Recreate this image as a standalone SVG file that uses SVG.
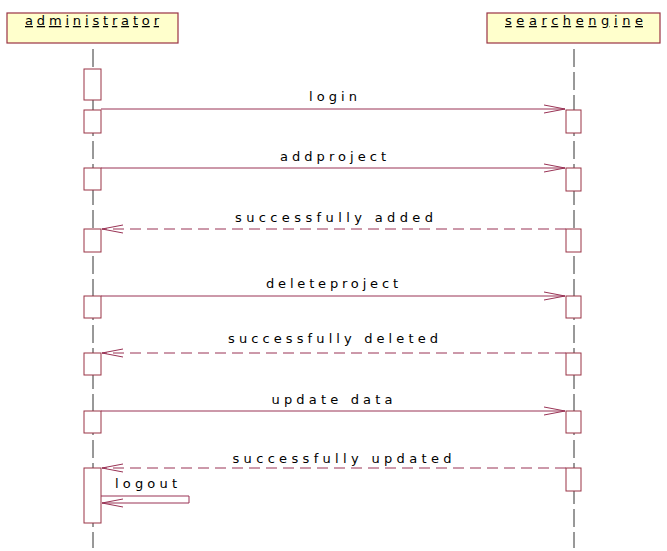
<svg xmlns="http://www.w3.org/2000/svg" width="667" height="551" viewBox="0 0 667 551">
<style>
.obj{fill:#FFFFCC;stroke:#993344;stroke-width:1.2}
.act{fill:#FFFFFF;stroke:#993344;stroke-width:1}
.life{stroke:#333333;stroke-width:1;stroke-dasharray:18 5;fill:none}
.msg{stroke:#993355;stroke-width:1;fill:none}
.ret{stroke:#993355;stroke-width:1;fill:none;stroke-dasharray:11 6}
.lbl{font-family:"DejaVu Sans","Liberation Sans",sans-serif;font-size:13px;fill:#000}
.name{font-family:"DejaVu Sans","Liberation Sans",sans-serif;font-size:13px;fill:#000;text-decoration:underline}
</style>
<defs>
<marker id="open" markerUnits="userSpaceOnUse" markerWidth="24" markerHeight="12" refX="21" refY="5" orient="auto">
<path d="M0,1 L21,5 L0,9" fill="none" stroke="#993355" stroke-width="1"/>
</marker>
</defs>
<rect width="667" height="551" fill="#FFFFFF"/>
<g id="administrator">
<rect class="obj" x="7" y="13" width="171" height="30"/>
<text class="name" x="92" y="25" text-anchor="middle" textLength="134" lengthAdjust="spacing">administrator</text>
<line class="life" x1="93" y1="49" x2="93" y2="548"/>
<rect class="act" x="84" y="69" width="17" height="31"/>
<rect class="act" x="84" y="110" width="17" height="23"/>
<rect class="act" x="84" y="168" width="17" height="22"/>
<rect class="act" x="84" y="229" width="17" height="23"/>
<rect class="act" x="84" y="296" width="17" height="22"/>
<rect class="act" x="84" y="353" width="17" height="22"/>
<rect class="act" x="84" y="411" width="17" height="22"/>
<rect class="act" x="84" y="468" width="17" height="55"/>
</g>
<g id="searchengine">
<rect class="obj" x="487" y="13" width="173" height="30"/>
<text class="name" x="574" y="25" text-anchor="middle" textLength="138" lengthAdjust="spacing">searchengine</text>
<line class="life" x1="574" y1="49" x2="574" y2="548"/>
<rect class="act" x="566" y="110" width="15" height="23"/>
<rect class="act" x="566" y="168" width="15" height="23"/>
<rect class="act" x="566" y="229" width="15" height="23"/>
<rect class="act" x="566" y="296" width="15" height="22"/>
<rect class="act" x="566" y="353" width="15" height="22"/>
<rect class="act" x="566" y="411" width="15" height="22"/>
<rect class="act" x="566" y="468" width="15" height="23"/>
</g>
<g id="connectors">
<line class="msg" x1="101" y1="109" x2="565" y2="109" marker-end="url(#open)"/>
<line class="msg" x1="101" y1="168" x2="565" y2="168" marker-end="url(#open)"/>
<line class="ret" x1="566" y1="229" x2="102" y2="229" marker-end="url(#open)"/>
<line class="msg" x1="101" y1="296" x2="565" y2="296" marker-end="url(#open)"/>
<line class="ret" x1="566" y1="353" x2="102" y2="353" marker-end="url(#open)"/>
<line class="msg" x1="101" y1="411" x2="565" y2="411" marker-end="url(#open)"/>
<line class="ret" x1="566" y1="468" x2="102" y2="468" marker-end="url(#open)"/>
<path class="msg" d="M101,496 H189 V503 H102" marker-end="url(#open)"/>
</g>
<g id="labels">
<text class="lbl" x="333" y="101" text-anchor="middle" textLength="48" lengthAdjust="spacing">login</text>
<text class="lbl" x="333" y="161" text-anchor="middle" textLength="106" lengthAdjust="spacing">addproject</text>
<text class="lbl" x="334" y="222" text-anchor="middle" textLength="198" lengthAdjust="spacing">successfully added</text>
<text class="lbl" x="332" y="288" text-anchor="middle" textLength="132" lengthAdjust="spacing">deleteproject</text>
<text class="lbl" x="333" y="343" text-anchor="middle" textLength="210" lengthAdjust="spacing">successfully deleted</text>
<text class="lbl" x="332" y="404" text-anchor="middle" textLength="121" lengthAdjust="spacing">update data</text>
<text class="lbl" x="342" y="463" text-anchor="middle" textLength="219" lengthAdjust="spacing">successfully updated</text>
<text class="lbl" x="146" y="488" text-anchor="middle" textLength="62" lengthAdjust="spacing">logout</text>
</g>
</svg>
